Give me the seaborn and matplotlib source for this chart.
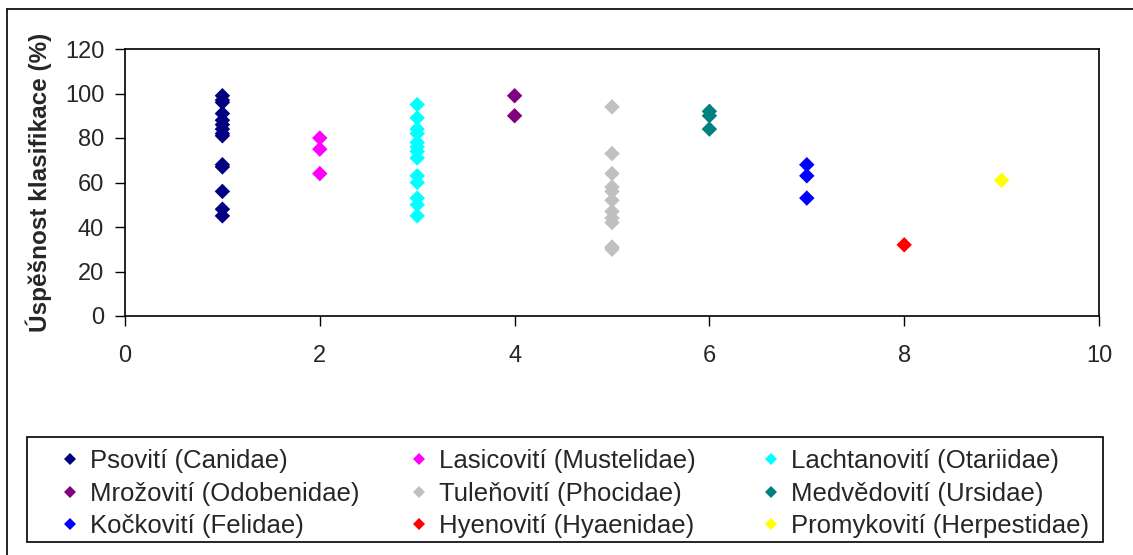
import matplotlib
matplotlib.use("Agg")
import matplotlib.pyplot as plt
from matplotlib.lines import Line2D
import seaborn as sns
import pandas as pd

families = [
    "Psovití (Canidae)", "Lasicovití (Mustelidae)", "Lachtanovití (Otariidae)",
    "Mrožovití (Odobenidae)", "Tuleňovití (Phocidae)", "Medvědovití (Ursidae)",
    "Kočkovití (Felidae)", "Hyenovití (Hyaenidae)", "Promykovití (Herpestidae)",
]
colors = ["#000080", "#FF00FF", "#00FFFF", "#800080", "#C0C0C0", "#008080",
          "#0000FF", "#FF0000", "#FFFF00"]

canidae = [99, 97, 96, 91, 88, 86, 84, 82, 81, 68, 67, 56, 48, 45]
mustelidae = [80, 75, 64]
otariidae = [95, 89, 84, 82, 78, 76, 74, 71, 63, 60, 53, 50, 45]
odobenidae = [99, 90]
phocidae = [94, 73, 64, 58, 56, 52, 47, 44, 42, 31, 30]
ursidae = [92, 90, 84]
felidae = [68, 63, 53]
hyaenidae = [32]
herpestidae = [61]

series = [canidae, mustelidae, otariidae, odobenidae, phocidae, ursidae,
          felidae, hyaenidae, herpestidae]
xpos = [1, 2, 3, 4, 5, 6, 7, 8, 9]

rows = []
for fam, x, vals in zip(families, xpos, series):
    for v in vals:
        rows.append({"x": x, "y": v, "family": fam})
df = pd.DataFrame(rows)

sns.set_theme(style="white")
plt.rcParams["font.family"] = ["Liberation Sans", "DejaVu Sans"]

W, H = 1133, 555
fig = plt.figure(figsize=(W / 100, H / 100), dpi=100)
ax = fig.add_axes([125 / W, 1 - 316 / H, 974 / W, 267 / H])

sns.scatterplot(data=df, x="x", y="y", hue="family", hue_order=families,
                palette=dict(zip(families, colors)), marker="D", s=62,
                linewidth=0, ax=ax, legend=False)

ax.set_xlim(0, 10)
ax.set_ylim(0, 120)
ax.set_xticks([0, 2, 4, 6, 8, 10])
ax.set_yticks([0, 20, 40, 60, 80, 100, 120])
ax.tick_params(axis="both", labelsize=17, length=7, width=1, color="black",
               direction="out", bottom=True, left=True)
ax.tick_params(axis="x", pad=14)
ax.tick_params(axis="y", pad=8)
ax.set_xlabel("")
ax.set_ylabel("Úspěšnost klasifikace (%)", fontsize=17.5, fontweight="bold",
              labelpad=9)
for sp in ax.spines.values():
    sp.set_color("black")
    sp.set_linewidth(1.2)

# legend: three columns, row-major order like the reference
col_x = [60, 409, 761]
for c in range(3):
    idx = [c, c + 3, c + 6]
    hs = [Line2D([], [], marker="D", linestyle="", markersize=6,
                 markerfacecolor=colors[i], markeredgewidth=0) for i in idx]
    ls = [families[i] for i in idx]
    leg = fig.legend(hs, ls, loc="upper left",
                     bbox_to_anchor=(col_x[c] / W, 1 - 449 / H),
                     frameon=False, prop={"size": 18.5},
                     handletextpad=0.35, handlelength=0.8, borderaxespad=0,
                     labelspacing=0.34, borderpad=0)
fig.patches.append(plt.Rectangle((27 / W, 1 - 542 / H), (1103 - 27) / W, 105 / H,
                                 transform=fig.transFigure, fill=False,
                                 edgecolor="black", linewidth=1.2))

# outer chart border (top and left edges visible in the reference)
fig.add_artist(Line2D([7 / W, 1], [1 - 9 / H, 1 - 9 / H],
                      transform=fig.transFigure, color="black", linewidth=1.2))
fig.add_artist(Line2D([7 / W, 7 / W], [0, 1 - 9 / H],
                      transform=fig.transFigure, color="black", linewidth=1.2))

fig.savefig("out.png", dpi=100)
